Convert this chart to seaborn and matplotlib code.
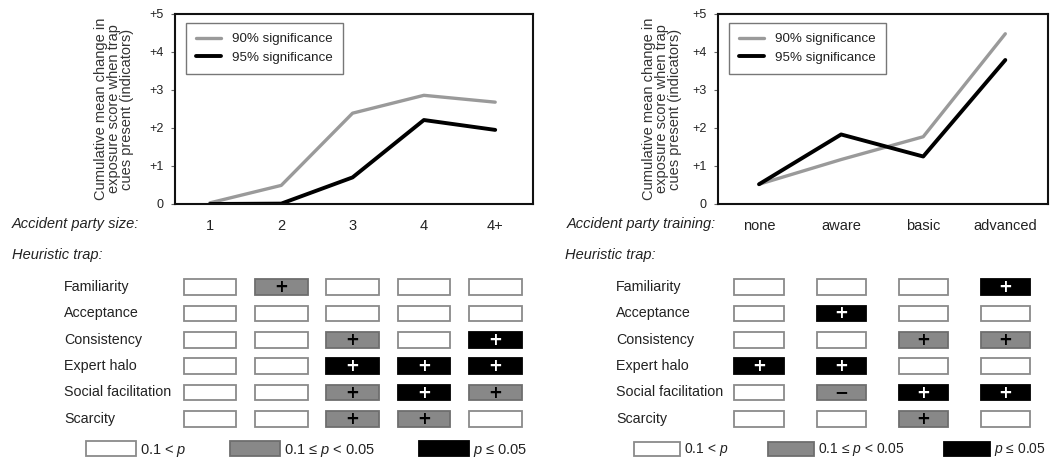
import numpy as np
import pandas as pd
import matplotlib
matplotlib.use("Agg")
import matplotlib.pyplot as plt
import matplotlib.transforms as mtransforms
from matplotlib.patches import Patch
import seaborn as sns

# ---------------- data ----------------
size_cats = ["1", "2", "3", "4", "4+"]
size_sig90 = [0.03, 0.49, 2.39, 2.86, 2.68]
size_sig95 = [0.0, 0.01, 0.70, 2.21, 1.95]

train_cats = ["none", "aware", "basic", "advanced"]
train_sig90 = [0.52, 1.17, 1.77, 4.48]
train_sig95 = [0.52, 1.83, 1.25, 3.79]

y_tick_labels = ["0", "+1", "+2", "+3", "+4", "+5"]
series_names = ["90% significance", "95% significance"]

traps = ["Familiarity", "Acceptance", "Consistency", "Expert halo",
         "Social facilitation", "Scarcity"]
# significance level: 0 -> 0.1 < p, 1 -> 0.1 <= p < 0.05, 2 -> p <= 0.05
size_level = [[0, 1, 0, 0, 0],
              [0, 0, 0, 0, 0],
              [0, 0, 1, 0, 2],
              [0, 0, 2, 2, 2],
              [0, 0, 1, 2, 1],
              [0, 0, 1, 1, 0]]
size_sign = [[0, 1, 0, 0, 0],
             [0, 0, 0, 0, 0],
             [0, 0, 1, 0, 1],
             [0, 0, 1, 1, 1],
             [0, 0, 1, 1, 1],
             [0, 0, 1, 1, 0]]
train_level = [[0, 0, 0, 2],
               [0, 2, 0, 0],
               [0, 0, 1, 1],
               [2, 2, 0, 0],
               [0, 1, 2, 2],
               [0, 0, 1, 0]]
train_sign = [[0, 0, 0, 1],
              [0, 1, 0, 0],
              [0, 0, 1, 1],
              [1, 1, 0, 0],
              [0, -1, 1, 1],
              [0, 0, 1, 0]]
level_labels = ["0.1 < $p$", "0.1 \u2264 $p$ < 0.05", "$p$ \u2264 0.05"]

# ---------------- style ----------------
sns.set_theme(style="white")
plt.rcParams["font.family"] = ["Liberation Sans", "DejaVu Sans"]
plt.rcParams["mathtext.fontset"] = "custom"
plt.rcParams["mathtext.rm"] = "Liberation Sans"
plt.rcParams["mathtext.it"] = "Liberation Sans:italic"
TXT = "#222222"
level_face = ["#ffffff", "#888888", "#000000"]
level_edge = ["#8a8a8a", "#6e6e6e", "#000000"]
line_colors = ["#9a9a9a", "#000000"]

fig = plt.figure(figsize=(10.54, 4.68), dpi=100)
W, H = 1054.0, 468.0


def fx(px):
    return px / W


def fy(py):
    return 1 - py / H


def make_panel(left_px, right_px, cats, s90, s95, xlim, levels, signs,
               box_w, xlabel_text, xlabel_px, row_label_px, heur_px,
               ylabel_x, legend_anchor_px):
    # ---- top line chart ----
    ax = fig.add_axes([fx(left_px), fy(204), fx(right_px - left_px), (204 - 14) / H])
    xs = np.arange(len(cats))
    df = pd.DataFrame({
        "x": np.concatenate([xs, xs]),
        "y": np.concatenate([s90, s95]),
        "series": [series_names[0]] * len(cats) + [series_names[1]] * len(cats),
    })
    for name, col, lw in zip(series_names, line_colors, [2.4, 2.8]):
        sns.lineplot(data=df[df["series"] == name], x="x", y="y", ax=ax,
                     color=col, linewidth=lw, label=name, sort=False,
                     estimator=None)
    ax.set_xlim(*xlim)
    ax.set_ylim(0, 5)
    ax.set_xticks(xs)
    ax.set_xticklabels(cats, fontsize=10.5, color=TXT)
    ax.set_yticks(range(6))
    ax.set_yticklabels(y_tick_labels, fontsize=9, color=TXT)
    ax.tick_params(axis="x", length=0, pad=11)
    ax.tick_params(axis="y", length=3, width=0.8, color="#666666", pad=5,
                   left=True)
    ax.set_xlabel("")
    ax.set_ylabel("Cumulative mean change in\nexposure score when trap\ncues present (indicators)",
                  fontsize=10.5, color="#333333", linespacing=0.88)
    ax.yaxis.set_label_coords(ylabel_x, 0.5)
    for sp in ax.spines.values():
        sp.set_visible(True)
        sp.set_color("#111111")
        sp.set_linewidth(1.5)
    axw = right_px - left_px
    leg = ax.legend(loc="upper left",
                    bbox_to_anchor=((legend_anchor_px[0] - left_px) / axw,
                                    1 - (legend_anchor_px[1] - 14) / 190.0),
                    borderaxespad=0, fontsize=9.6, frameon=True, fancybox=False,
                    handlelength=1.9, handletextpad=0.8, borderpad=0.75,
                    labelspacing=0.45)
    leg.get_frame().set_edgecolor("#555555")
    leg.get_frame().set_linewidth(1.0)
    for t in leg.get_texts():
        t.set_color(TXT)

    fig.text(fx(xlabel_px), fy(224), xlabel_text, fontsize=10.5, style="italic",
             color=TXT, ha="left", va="center")
    fig.text(fx(heur_px), fy(255), "Heuristic trap:", fontsize=10.5,
             style="italic", color=TXT, ha="left", va="center")

    # ---- bottom significance table ----
    bx = fig.add_axes([fx(left_px), fy(432), fx(right_px - left_px), (432 - 274) / H],
                      sharex=ax)
    bx.set_ylim(len(traps) - 0.5, -0.5)
    bx.axis("off")
    lv = np.array(levels)
    sg = np.array(signs)
    for r, trap in enumerate(traps):
        for c in range(len(cats)):
            L = lv[r, c]
            bx.bar(c, 0.6, bottom=r - 0.3, width=box_w, color=level_face[L],
                   edgecolor=level_edge[L], linewidth=1.3)
            if sg[r, c] != 0:
                sym = "+" if sg[r, c] > 0 else "\u2212"
                bx.text(c, r, sym, ha="center", va="center", fontsize=12,
                        fontweight="bold",
                        color="white" if L == 2 else "black",
                        family="DejaVu Sans")
        trans = mtransforms.blended_transform_factory(fig.transFigure, bx.transData)
        bx.text(fx(row_label_px), r, trap, transform=trans, ha="left",
                va="center", fontsize=10.3, color=TXT)
    return ax, bx


make_panel(175, 533, size_cats, size_sig90, size_sig95, (-0.49, 4.53),
           size_level, size_sign, 0.74, "Accident party size:", 12, 64, 12,
           -0.115, (186, 23))
make_panel(718, 1048, train_cats, train_sig90, train_sig95, (-0.5, 3.52),
           train_level, train_sign, 0.60, "Accident party training:", 567, 616,
           565, -0.11, (729, 23))

# ---------------- significance legends ----------------
handles = [Patch(facecolor=level_face[i], edgecolor=level_edge[i], linewidth=1.3)
           for i in range(3)]
for x0, hl, fs, cs in [(86, 3.4, 10.5, 3.0), (634, 3.3, 10.0, 2.85)]:
    lg = fig.legend(handles, level_labels, loc="center left",
                    bbox_to_anchor=(fx(x0), fy(450)), borderaxespad=0,
                    borderpad=0, ncol=3, frameon=False, fontsize=fs,
                    handlelength=hl, handleheight=1.2, handletextpad=0.3,
                    columnspacing=cs)
    for t in lg.get_texts():
        t.set_color(TXT)

fig.savefig("out.png", dpi=100)
